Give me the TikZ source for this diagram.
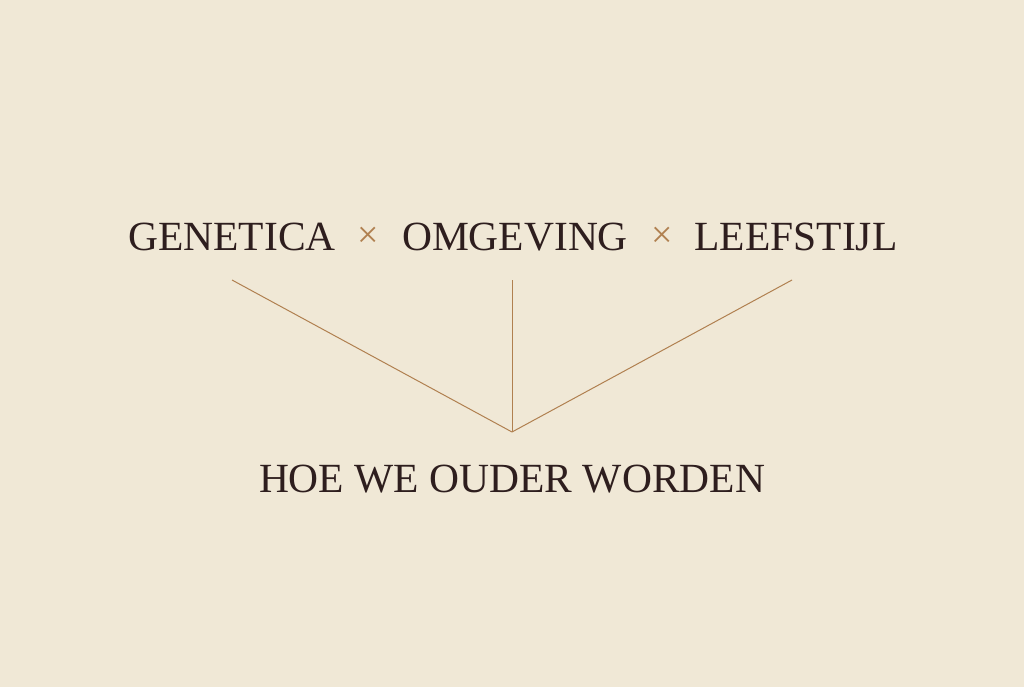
\documentclass[tikz,border=0pt]{standalone}
\usepackage{fontspec}
\setmainfont{Liberation Serif}
\definecolor{bg}{HTML}{F0E8D6}
\definecolor{ink}{HTML}{2E1E1E}
\definecolor{ln}{HTML}{B08050}
\begin{document}
\begin{tikzpicture}[x=1pt,y=-1pt,
  lbl/.style={inner sep=0pt,text=ink,font=\fontsize{41.5}{45}\selectfont},
  tim/.style={inner sep=0pt,text=ln,font=\fontsize{38}{40}\selectfont},
  con/.style={draw=ln,line width=1pt}]
\fill[bg] (0,0) rectangle (1024,687);
\useasboundingbox (0,0) rectangle (1024,687);
\node[lbl] (g) at (232,237) {GENETICA};
\node[tim] (x1) at (368,237) {×};
\node[lbl] (o) at (515,237) {OMGEVING};
\node[tim] (x2) at (662,237) {×};
\node[lbl] (l) at (796,237) {LEEFSTIJL};
\node[lbl] (h) at (512,479) {HOE WE OUDER WORDEN};
\coordinate (p) at (512,432);
\coordinate (a) at (232,280);
\coordinate (b) at (512,280);
\coordinate (c) at (792,280);
\draw[con] (a) -- (p);
\draw[con] (b) -- (p);
\draw[con] (c) -- (p);
\end{tikzpicture}
\end{document}
